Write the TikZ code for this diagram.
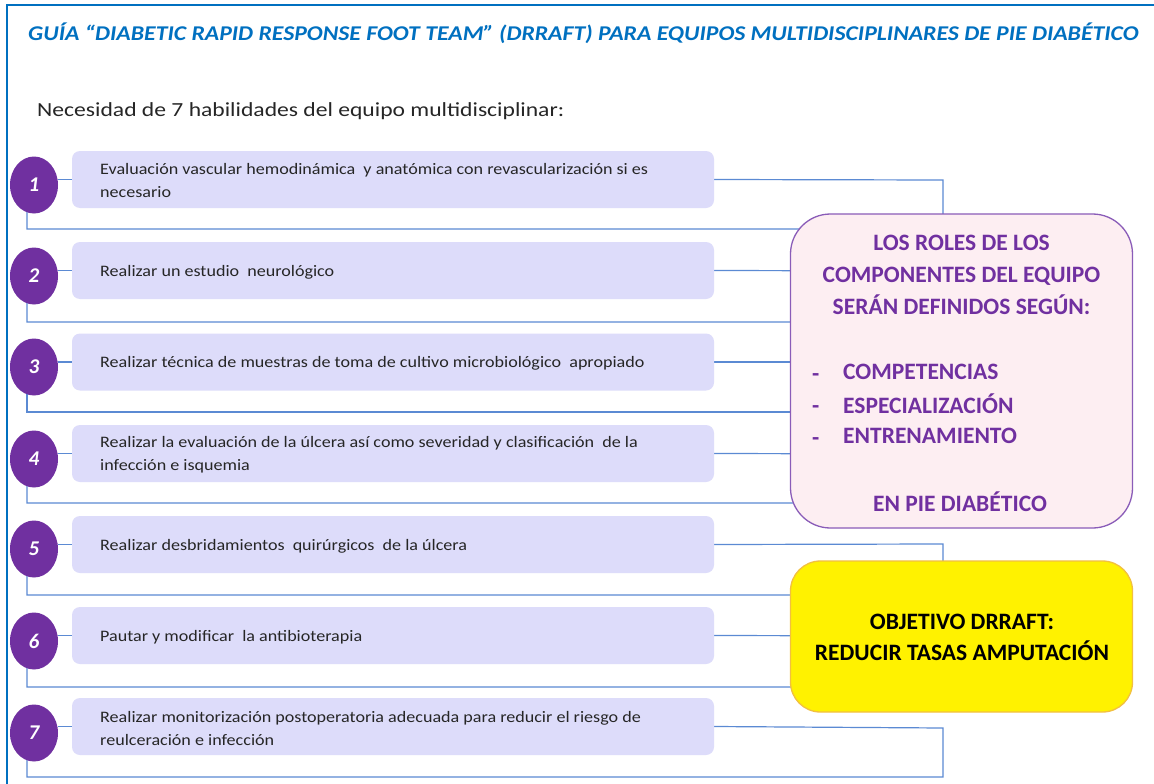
\documentclass[tikz,border=0pt]{standalone}
\usepackage{fontspec}
\setmainfont{Carlito}
\newfontfamily\itemfont[FakeStretch=1.13]{Carlito}
\newfontfamily\titlefont[FakeStretch=1.13]{Carlito}
\newfontfamily\subfont[FakeStretch=1.18]{Carlito}
\usetikzlibrary{shapes.geometric,backgrounds}
\definecolor{frameblue}{HTML}{0070C0}
\definecolor{linkblue}{HTML}{5B8AD3}
\definecolor{itemfill}{HTML}{DDDCFA}
\definecolor{circpurple}{HTML}{7030A0}
\definecolor{rolefill}{HTML}{FDEEF2}
\definecolor{roleborder}{HTML}{8A5CB8}
\definecolor{goalborder}{HTML}{F2C040}
\definecolor{itemtext}{HTML}{262626}
\tikzset{
  itembox/.style={rectangle, rounded corners=8pt, fill=itemfill, draw=none,
    minimum width=642pt, minimum height=57pt, inner sep=0pt},
  itemtxt/.style={anchor=west, align=left, text=itemtext, font=\itemfont\fontsize{16}{23}\selectfont, inner sep=0pt},
  numcirc/.style={ellipse, fill=circpurple, draw=none, minimum width=48pt, minimum height=57pt,
    inner sep=0pt, text=white, font=\fontsize{21}{21}\selectfont\bfseries\itshape},
  conn/.style={draw=linkblue, line width=1.2pt},
  framelin/.style={draw=frameblue, line width=2.5pt},
  rolebox/.style={rectangle, rounded corners=40pt, fill=rolefill, draw=roleborder, line width=1.3pt,
    minimum width=342pt, minimum height=314pt, inner sep=0pt},
  goalbox/.style={rectangle, rounded corners=30pt, fill=yellow, draw=goalborder, line width=1.3pt,
    minimum width=342pt, minimum height=151pt, inner sep=0pt},
  roletxt/.style={text=circpurple, font=\fontsize{23.5}{32}\selectfont\bfseries, inner sep=0pt},
}
\begin{document}
\begin{tikzpicture}[x=1pt,y=-1pt]
\useasboundingbox (0,0) rectangle (1154,784);
\begin{scope}[on background layer]
  \fill[white] (0,0) rectangle (1154,784);
\end{scope}
% frame
\draw[framelin] (1160,5) -- (7,5) -- (7,790);
% title
\node[anchor=west, inner sep=0pt, text=frameblue, font=\titlefont\fontsize{21}{21}\selectfont\bfseries\itshape] (title) at (28,33)
  {GUÍA “DIABETIC RAPID RESPONSE FOOT TEAM” (DRRAFT) PARA EQUIPOS MULTIDISCIPLINARES DE PIE DIABÉTICO};
\node[anchor=west, inner sep=0pt, text=itemtext, font=\subfont\fontsize{20}{20}\selectfont] (sub) at (37,111)
  {Necesidad de 7 habilidades del equipo multidisciplinar:};
% items: index / box center y / line y / bottom y / text
\foreach \i/\bc/\ly/\by/\txt in {
  1/179.5/180/229/{Evaluación vascular hemodinámica\ \ y anatómica con revascularización si es\\necesario},
  2/270.5/271/322/{Realizar un estudio\ \ neurológico},
  3/362/362/412/{Realizar técnica de muestras de toma de cultivo microbiológico\ \ apropiado},
  4/453.5/454/503/{Realizar la evaluación de la úlcera así como severidad y clasificación\ \ de la\\infección e isquemia},
  5/544.5/544/595/{Realizar desbridamientos\ \ quirúrgicos\ \ de la úlcera},
  6/635.5/636/687/{Pautar y modificar\ \ la antibioterapia},
  7/726.5/728/777/{Realizar monitorización postoperatoria adecuada para reducir el riesgo de\\reulceración e infección}} {
  \node[itembox] (b\i) at (393,\bc) {};
  \node[itemtxt] (t\i) at (100,\bc+1.5) {\txt};
  \node[numcirc] (c\i) at (34,\ly+5) {\i};
  \coordinate (r\i) at (943,\ly);
  \coordinate (rb\i) at (943,\by);
  \coordinate (lb\i) at (27,\by);
  \coordinate (lt\i) at (27,\ly);
  \begin{scope}[on background layer]
    \draw[conn] (c\i.east |- b\i.west) -- (b\i.west);
    \draw[conn] (b\i.east) -- (r\i) -- (rb\i) -- (lb\i) -- (lt\i);
  \end{scope}
}
% roles box
\node[rolebox] (roles) at (961.5,371) {};
\node[roletxt, align=center] (rolehead) at (961.5,275) {LOS ROLES DE LOS\\COMPONENTES DEL EQUIPO\\SERÁN DEFINIDOS SEGÚN:};
\node[roletxt, anchor=west] (d1) at (812,378) {-};
\node[roletxt, anchor=west] (d2) at (812,410) {-};
\node[roletxt, anchor=west] (d3) at (812,442) {-};
\node[roletxt, anchor=west] (k1) at (843,372) {COMPETENCIAS};
\node[roletxt, anchor=west] (k2) at (843,404) {ESPECIALIZACIÓN};
\node[roletxt, anchor=west] (k3) at (843,436) {ENTRENAMIENTO};
\node[roletxt] (rolefoot) at (960,502) {EN PIE DIABÉTICO};
% goal box
\node[goalbox] (goal) at (961.5,636.5) {};
\node[align=center, inner sep=0pt, font=\fontsize{23.5}{31}\selectfont\bfseries] (goaltxt) at (962,637.5)
  {OBJETIVO DRRAFT:\\REDUCIR TASAS AMPUTACIÓN};
\end{tikzpicture}
\end{document}
